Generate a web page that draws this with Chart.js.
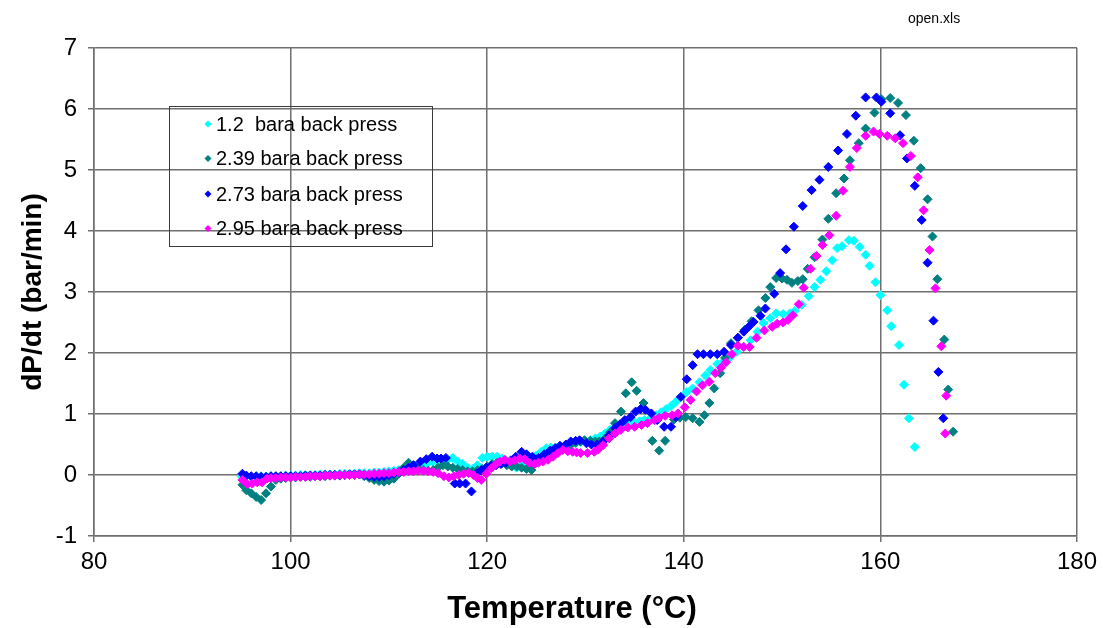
<!DOCTYPE html>
<html>
<head>
<meta charset="utf-8">
<script src="https://cdn.jsdelivr.net/npm/chart.js"></script>
<style>
  body { margin: 0; background: #fff; }
</style>
</head>
<body>
<canvas id="myChart" width="1103" height="628"></canvas>
<script>
// [temperature °C, dP/dt bar/min]
var press12 = [
  [95.0,-0.02],[95.5,-0.02],[96.0,-0.03],[96.5,-0.02],[97.0,-0.02],[97.5,-0.03],[98.0,-0.02],[98.5,-0.02],[99.0,-0.02],[99.5,-0.01],
  [100.0,-0.01],[100.5,-0.01],[101.0,0.0],[101.5,0.0],[102.0,0.0],[102.5,0.0],[103.0,0.01],[103.5,0.01],[104.0,0.01],[104.5,0.01],
  [105.0,0.02],[105.5,0.02],[106.0,0.02],[106.5,0.02],[107.0,0.03],[107.5,0.03],[108.0,0.03],[108.5,0.04],[109.0,0.04],[109.5,0.05],
  [110.0,0.06],[110.5,0.07],[111.0,0.08],[111.5,0.09],[112.0,0.1],[112.5,0.12],[113.0,0.14],[113.5,0.16],[114.0,0.2],[114.5,0.22],
  [115.0,0.2],[115.5,0.22],[116.0,0.25],[116.5,0.28],[117.0,0.22],[117.5,0.18],[118.0,0.12],[118.5,0.1],[119.0,0.16],[119.5,0.28],
  [120.0,0.3],[120.5,0.3],[121.0,0.3],[121.5,0.27],[122.0,0.2],[122.5,0.16],[123.0,0.12],[123.5,0.15],[124.0,0.22],[124.5,0.28],
  [125.0,0.32],[125.5,0.38],[126.0,0.44],[126.5,0.45],[127.0,0.45],[127.5,0.46],[128.0,0.48],[128.5,0.5],[129.0,0.52],[129.5,0.54],
  [130.0,0.55],[130.5,0.57],[131.0,0.6],[131.5,0.63],[132.0,0.68],[132.5,0.74],[133.0,0.78],[133.5,0.8],[134.0,0.82],[134.5,0.84],
  [135.0,0.86],[135.5,0.88],[136.0,0.9],[136.6,0.93],[137.2,0.98],[137.7,1.03],[138.2,1.08],[138.7,1.13],[139.2,1.2],[139.7,1.28],
  [140.3,1.36],[140.9,1.42],[141.6,1.52],[142.2,1.63],[142.7,1.72],[143.4,1.82],[144.1,1.87],[144.7,1.93],[145.4,2.02],[146.1,2.1],
  [146.8,2.21],[147.5,2.35],[148.1,2.49],[148.8,2.57],[149.4,2.65],[150.1,2.64],[150.8,2.65],[151.3,2.69],[152.0,2.79],[152.7,2.93],
  [153.3,3.08],[153.9,3.2],[154.5,3.34],[155.1,3.52],[155.6,3.72],[156.1,3.75],[156.8,3.85],[157.3,3.84],[157.9,3.74],[158.5,3.61],
  [158.9,3.43],[159.5,3.16],[160.0,2.95],[160.7,2.7],[161.1,2.44],[161.9,2.13],[162.4,1.48],[162.9,0.93],[163.5,0.46]
];
var press239 = [
  [95.1,-0.16],[95.5,-0.25],[96.0,-0.3],[96.5,-0.36],[97.0,-0.41],[97.5,-0.3],[98.0,-0.19],[98.5,-0.08],[99.0,-0.06],[99.5,-0.05],
  [100.0,-0.04],[100.5,-0.04],[101.0,-0.03],[101.5,-0.03],[102.0,-0.03],[102.5,-0.02],[103.0,-0.02],[103.5,-0.02],[104.0,-0.01],[104.5,-0.01],
  [105.0,-0.01],[105.5,0.0],[106.0,0.0],[106.5,0.0],[107.0,0.01],[107.5,-0.02],[108.0,-0.05],[108.5,-0.08],[109.0,-0.1],[109.5,-0.11],
  [110.0,-0.09],[110.5,-0.06],[111.0,0.02],[111.5,0.12],[112.0,0.2],[112.5,0.16],[113.0,0.1],[113.5,0.08],[114.0,0.07],[114.5,0.08],
  [115.0,0.12],[115.5,0.16],[116.0,0.14],[116.5,0.12],[117.0,0.1],[117.5,0.08],[118.0,0.06],[118.5,0.06],[119.0,0.08],[119.5,0.1],
  [120.0,0.14],[120.5,0.18],[121.0,0.2],[121.5,0.19],[122.0,0.16],[122.5,0.14],[123.0,0.14],[123.5,0.12],[124.0,0.1],[124.5,0.08],
  [125.0,0.2],[125.5,0.28],[126.0,0.3],[126.5,0.34],[127.0,0.38],[127.5,0.42],[128.0,0.45],[128.5,0.5],[129.0,0.53],[129.5,0.55],
  [129.9,0.57],[130.5,0.56],[131.0,0.55],[131.4,0.55],[132.0,0.6],[132.5,0.7],[133.0,0.85],[133.6,1.04],[134.1,1.34],[134.7,1.52],
  [135.2,1.38],[135.9,1.18],[136.8,0.56],[137.5,0.4],[138.1,0.56],[139.0,0.91],[139.6,0.94],[140.2,0.95],[140.9,0.93],[141.6,0.87],
  [142.1,0.98],[142.6,1.18],[143.1,1.42],[143.7,1.67],[144.2,1.92],[144.8,2.16],[145.5,2.25],[146.2,2.38],[146.9,2.52],[147.6,2.7],
  [148.3,2.9],[148.8,3.08],[149.4,3.23],[150.0,3.22],[150.5,3.2],[151.0,3.15],[151.6,3.18],[152.1,3.21],[152.6,3.38],[153.3,3.57],
  [154.1,3.86],[154.7,4.2],[155.5,4.62],[156.3,4.86],[156.9,5.16],[157.8,5.44],[158.5,5.68],[159.4,5.94],[160.1,6.16],[161.0,6.18],
  [161.8,6.1],[162.6,5.9],[163.4,5.48],[164.1,5.03],[164.8,4.52],[165.3,3.91],[165.8,3.21],[166.5,2.22],[166.9,1.4],[167.4,0.71]
];
var press273 = [
  [95.1,0.02],[95.5,-0.01],[96.0,-0.02],[96.5,-0.02],[97.0,-0.03],[97.5,-0.03],[98.0,-0.02],[98.5,-0.02],[99.0,-0.02],[99.5,-0.02],
  [100.0,-0.02],[100.5,-0.02],[101.0,-0.02],[101.5,-0.01],[102.0,-0.01],[102.5,-0.01],[103.0,-0.01],[103.5,0.0],[104.0,0.0],[104.5,0.0],
  [105.0,0.0],[105.5,0.0],[106.0,0.01],[106.5,0.01],[107.0,0.01],[107.5,0.0],[108.0,-0.02],[108.5,-0.03],[109.0,-0.03],[109.5,-0.02],
  [110.0,0.0],[110.5,0.02],[111.0,0.05],[111.5,0.08],[112.0,0.12],[112.5,0.16],[113.2,0.22],[113.8,0.26],[114.4,0.3],[114.9,0.27],
  [115.3,0.27],[115.8,0.28],[116.7,-0.14],[117.2,-0.14],[117.8,-0.14],[118.4,-0.27],[118.9,0.02],[119.4,0.08],[119.9,0.12],[120.4,0.15],
  [120.9,0.16],[121.4,0.18],[121.9,0.2],[122.4,0.24],[122.9,0.3],[123.5,0.38],[124.0,0.34],[124.6,0.3],[125.2,0.28],[125.8,0.34],
  [126.4,0.4],[126.9,0.44],[127.4,0.48],[128.0,0.5],[128.5,0.55],[129.0,0.56],[129.4,0.57],[130.1,0.52],[130.6,0.5],[131.2,0.5],
  [131.8,0.55],[132.4,0.65],[133.0,0.77],[133.5,0.83],[134.0,0.9],[134.6,0.95],[135.1,1.04],[135.6,1.08],[136.1,1.07],[136.7,1.01],
  [137.3,0.9],[138.0,0.79],[138.7,0.79],[139.2,0.95],[139.7,1.28],[140.3,1.57],[140.9,1.8],[141.4,1.98],[142.0,1.98],[142.7,1.98],
  [143.4,1.98],[144.1,2.02],[144.8,2.13],[145.5,2.25],[146.1,2.35],[146.6,2.43],[147.1,2.51],[147.8,2.61],[148.3,2.73],[149.2,2.97],
  [149.8,3.31],[150.4,3.7],[151.2,4.07],[152.1,4.41],[153.0,4.67],[153.8,4.84],[154.7,5.05],[155.7,5.32],[156.6,5.59],[157.5,5.89],
  [158.5,6.19],[159.6,6.19],[160.1,6.12],[161.0,5.93],[162.0,5.57],[162.7,5.19],[163.5,4.74],[164.2,4.18],[164.8,3.48],[165.4,2.53],
  [165.9,1.69],[166.4,0.93]
];
var press295 = [
  [95.1,-0.08],[95.6,-0.15],[96.1,-0.14],[96.6,-0.12],[97.1,-0.12],[97.6,-0.06],[98.0,-0.05],[98.5,-0.05],[99.0,-0.04],[99.5,-0.04],
  [100.0,-0.04],[100.5,-0.03],[101.0,-0.03],[101.5,-0.03],[102.0,-0.02],[102.5,-0.02],[103.0,-0.02],[103.5,-0.01],[104.0,-0.01],[104.5,-0.01],
  [105.0,0.0],[105.5,0.0],[106.0,0.0],[106.5,0.0],[107.0,0.01],[107.5,0.01],[108.0,0.01],[108.5,0.02],[109.0,0.02],[109.5,0.03],
  [110.0,0.03],[110.5,0.04],[111.0,0.05],[111.5,0.05],[112.0,0.06],[112.5,0.06],[113.0,0.07],[113.5,0.07],[114.0,0.06],[114.5,0.05],
  [115.0,0.03],[115.6,-0.02],[116.1,-0.04],[116.6,-0.02],[117.1,0.0],[117.6,0.02],[118.1,0.03],[118.6,0.0],[119.0,-0.05],[119.4,-0.08],
  [119.9,0.02],[120.4,0.11],[120.9,0.18],[121.3,0.22],[121.8,0.25],[122.3,0.22],[122.8,0.24],[123.3,0.27],[123.8,0.26],[124.3,0.2],
  [124.8,0.18],[125.2,0.2],[125.7,0.22],[126.2,0.25],[126.7,0.3],[127.2,0.36],[127.7,0.41],[128.2,0.39],[128.7,0.38],[129.1,0.37],
  [129.5,0.36],[130.2,0.36],[130.9,0.38],[131.3,0.42],[131.8,0.49],[132.4,0.6],[133.0,0.68],[133.6,0.74],[134.3,0.78],[135.0,0.79],
  [135.7,0.82],[136.3,0.85],[137.0,0.9],[137.5,0.94],[138.1,0.97],[138.8,0.98],[139.4,1.01],[140.1,1.11],[140.7,1.23],[141.3,1.37],
  [141.9,1.47],[142.6,1.53],[143.2,1.67],[143.8,1.76],[144.3,1.85],[144.9,1.98],[145.5,2.12],[146.1,2.1],[146.7,2.1],[147.4,2.25],
  [148.2,2.37],[149.0,2.43],[149.5,2.48],[150.1,2.5],[150.6,2.54],[151.1,2.62],[151.7,2.8],[152.2,3.07],[152.9,3.38],[153.5,3.59],
  [154.1,3.77],[154.8,3.93],[155.5,4.25],[156.2,4.66],[156.9,5.05],[157.6,5.36],[158.5,5.56],[159.3,5.63],[159.9,5.59],[160.7,5.56],
  [161.5,5.52],[162.3,5.44],[163.1,5.23],[163.8,4.88],[164.4,4.34],[165.0,3.69],[165.6,3.06],[166.2,2.11],[166.7,1.3],[166.6,0.68]
];

var seriesLabels = ['1.2  bara back press', '2.39 bara back press', '2.73 bara back press', '2.95 bara back press'];
var seriesColors = ['#00FFFF', '#008080', '#0000FF', '#FF00FF'];
var seriesData = [press12, press239, press273, press295];

var xRange = [80, 180];
var yRange = [-1, 7];

var gridColor = '#6f6f6f';
var fontFamily = "'Liberation Sans', Arial, sans-serif";

function toPoints(arr) {
  return arr.map(function (p) { return { x: p[0], y: p[1] }; });
}

// own legend box inside the plot (gridlines show through it), x title and file note
var extras = {
  id: 'extras',
  afterDraw: function (chart) {
    var ctx = chart.ctx;
    ctx.save();
    ctx.strokeStyle = '#3a3a3a';
    ctx.lineWidth = 1;
    ctx.strokeRect(169.5, 106.5, 263, 140);
    ctx.font = '20px ' + fontFamily;
    ctx.textBaseline = 'middle';
    ctx.textAlign = 'left';
    var rows = [124, 158.5, 194, 228.5];
    chart.data.datasets.forEach(function (ds, i) {
      var y = rows[i];
      var x = 208;
      ctx.fillStyle = ds.backgroundColor;
      ctx.beginPath();
      ctx.moveTo(x - 3.5, y);
      ctx.lineTo(x, y - 3.5);
      ctx.lineTo(x + 3.5, y);
      ctx.lineTo(x, y + 3.5);
      ctx.closePath();
      ctx.fill();
      ctx.fillStyle = '#000';
      ctx.fillText(ds.label, 216, y + 1);
    });
    ctx.font = '14px ' + fontFamily;
    ctx.fillText('open.xls', 908, 19);

    ctx.font = 'bold 31px ' + fontFamily;
    ctx.textAlign = 'center';
    ctx.fillText('Temperature (°C)', 572, 609);
    ctx.restore();
  }
};

var ctx = document.getElementById('myChart').getContext('2d');
var myChart = new Chart(ctx, {
  type: 'scatter',
  data: {
    datasets: seriesData.map(function (d, i) {
      return {
        label: seriesLabels[i],
        data: toPoints(d),
        backgroundColor: seriesColors[i],
        borderColor: seriesColors[i],
        borderWidth: 1,
        pointStyle: 'rectRot',
        pointRadius: 4.5,
        order: 3 - i
      };
    })
  },
  plugins: [extras],
  options: {
    responsive: false,
    animation: false,
    devicePixelRatio: 1,
    layout: { padding: { top: 48, right: 22, left: 0, bottom: 0 } },
    plugins: {
      legend: { display: false },
      tooltip: { enabled: false }
    },
    scales: {
      x: {
        type: 'linear',
        min: xRange[0],
        max: xRange[1],
        afterFit: function (s) { s.height = 92; },
        ticks: { stepSize: 20, color: '#000', padding: 6, font: { family: fontFamily, size: 24 } },
        grid: { color: gridColor, lineWidth: 1.5, tickLength: 6 },
        border: { color: gridColor, width: 1.5 },
        title: { display: false }
      },
      y: {
        min: yRange[0],
        max: yRange[1],
        afterFit: function (s) { s.width = 94; },
        ticks: { stepSize: 1, color: '#000', padding: 11, font: { family: fontFamily, size: 24 } },
        grid: { color: gridColor, lineWidth: 1.5, tickLength: 6 },
        border: { color: gridColor, width: 1.5 },
        title: {
          display: true,
          text: 'dP/dt (bar/min)',
          color: '#000',
          padding: { top: 16, bottom: 0 },
          font: { family: fontFamily, size: 28, weight: 'bold' }
        }
      }
    }
  }
});
</script>
</body>
</html>
